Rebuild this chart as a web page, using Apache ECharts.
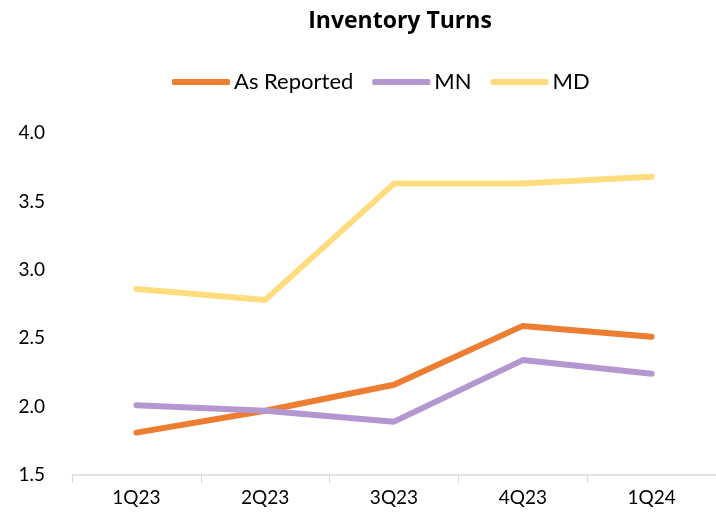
<!DOCTYPE html>
<html>
<head>
<meta charset="utf-8">
<script src="https://cdn.jsdelivr.net/npm/echarts@6/dist/echarts.min.js"></script>
<style>
  html, body { margin: 0; padding: 0; background: #fff; }
  #chart { width: 716px; height: 515px; }
</style>
</head>
<body>
<div id="chart"></div>
<script>
var quarters = ['1Q23', '2Q23', '3Q23', '4Q23', '1Q24'];
var asReported = [1.81, 1.97, 2.16, 2.59, 2.51];
var mn = [2.01, 1.97, 1.89, 2.34, 2.24];
var md = [2.86, 2.78, 3.63, 3.63, 3.68];

var font = 'Lato, "Noto Sans", sans-serif';
var chart = echarts.init(document.getElementById('chart'));

function line(name, data, color) {
  return {
    name: name,
    type: 'line',
    data: data,
    symbol: 'none',
    lineStyle: { width: 6, color: color, cap: 'round', join: 'round' },
    itemStyle: { color: color }
  };
}

chart.setOption({
  animation: false,
  title: {
    text: 'Inventory Turns',
    left: 395,
    textAlign: 'center',
    top: 5,
    textStyle: { fontFamily: '"Open Sans", sans-serif', fontSize: 23, fontWeight: 'bold', color: '#000' }
  },
  legend: {
    top: 66,
    left: 167,
    itemWidth: 58,
    itemHeight: 6,
    itemGap: 19,
    icon: 'roundRect',
    textStyle: { fontFamily: font, fontSize: 22, color: '#000', padding: [0, 0, 0, -1] },
    data: ['As Reported', 'MN', 'MD']
  },
  grid: { left: 72, right: -9, top: 133, bottom: 40 },
  xAxis: {
    type: 'category',
    data: quarters,
    boundaryGap: true,
    axisLine: { lineStyle: { color: '#d9d9d9', width: 1.5 } },
    axisTick: { show: true, length: 8, lineStyle: { color: '#d9d9d9' } },
    axisLabel: { fontFamily: font, fontSize: 19, color: '#000', margin: 13 }
  },
  yAxis: {
    type: 'value',
    min: 1.5,
    max: 4.0,
    interval: 0.5,
    axisLine: { show: false },
    axisTick: { show: false },
    splitLine: { show: false },
    axisLabel: {
      fontFamily: font, fontSize: 19, color: '#000', margin: 27,
      formatter: function (v) { return v.toFixed(1); }
    }
  },
  series: [
    line('As Reported', asReported, '#ed7d31'),
    line('MN', mn, '#b497d0'),
    line('MD', md, '#ffdd7f')
  ]
});
</script>
</body>
</html>
